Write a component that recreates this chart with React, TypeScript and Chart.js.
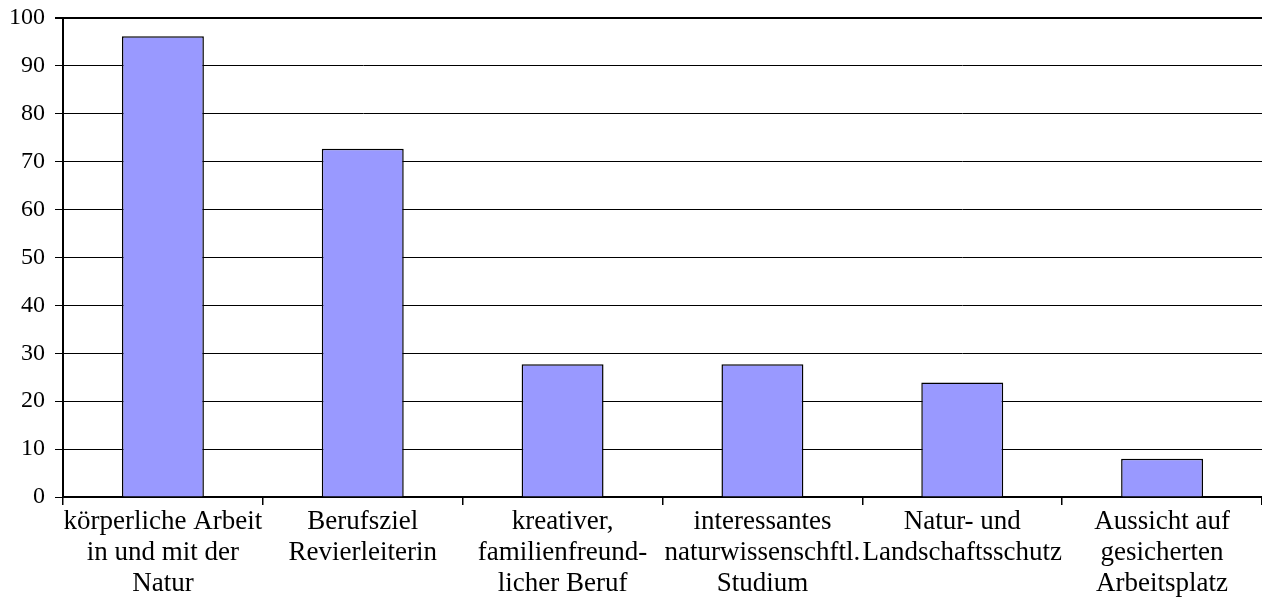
import React, { useEffect, useRef } from "react";
import { Chart, registerables } from "chart.js";

Chart.register(...registerables);

const categories: string[][] = [
  ["körperliche Arbeit", "in und mit der", "Natur"],
  ["Berufsziel", "Revierleiterin"],
  ["kreativer,", "familienfreund-", "licher Beruf"],
  ["interessantes", "naturwissenschftl.", "Studium"],
  ["Natur- und", "Landschaftsschutz"],
  ["Aussicht auf", "gesicherten", "Arbeitsplatz"],
];
const values: number[] = [96.2, 72.7, 27.7, 27.7, 23.9, 8.0];
const yTicks: number[] = [0, 10, 20, 30, 40, 50, 60, 70, 80, 90, 100];

const FONT = "'Liberation Serif', 'Times New Roman', serif";

export default function App() {
  const ref = useRef<HTMLCanvasElement | null>(null);
  useEffect(() => {
    document.body.style.margin = "0";
    if (!ref.current) return;
    const chart = new Chart(ref.current, {
      type: "bar",
      data: {
        labels: categories,
        datasets: [
          {
            data: values,
            backgroundColor: "#9999FF",
            borderColor: "#000000",
            borderWidth: 1.5,
            barPercentage: 0.41,
            categoryPercentage: 1,
          },
        ],
      },
      options: {
        animation: false,
        responsive: false,
        layout: { padding: { top: 18, right: 0, left: 0, bottom: 0 } },
        plugins: { legend: { display: false }, tooltip: { enabled: false } },
        scales: {
          x: {
            offset: true,
            grid: {
              offset: true,
              drawOnChartArea: false,
              drawTicks: true,
              tickLength: 8,
              color: "#000",
              lineWidth: 1.5,
            },
            border: { color: "#000", width: 2 },
            ticks: {
              color: "#000",
              font: { family: FONT, size: 27, lineHeight: 1.15 },
              padding: 1,
              maxRotation: 0,
              autoSkip: false,
            },
            afterFit: (s: any) => {
              s.height = 102;
              s.paddingLeft = 0;
              s.paddingRight = 0;
            },
          },
          y: {
            min: 0,
            max: 100,
            afterBuildTicks: (s: any) => {
              s.ticks = yTicks.map((v) => ({ value: v }));
            },
            grid: {
              color: "#000",
              lineWidth: (c: any) => (c.tick && c.tick.value === 100 ? 2 : 1),
              tickLength: 8,
            },
            border: { color: "#000", width: 2 },
            ticks: {
              color: "#000",
              font: { family: FONT, size: 24 },
              padding: 10,
            },
            afterFit: (s: any) => {
              s.width = 63;
              s.paddingTop = 14;
              s.paddingBottom = 14;
            },
          },
        },
      },
    });
    return () => chart.destroy();
  }, []);
  return (
    <div style={{ position: "absolute", left: 0, top: 0, width: 1262, height: 599 }}>
      <canvas ref={ref} width={1262} height={599} />
    </div>
  );
}
